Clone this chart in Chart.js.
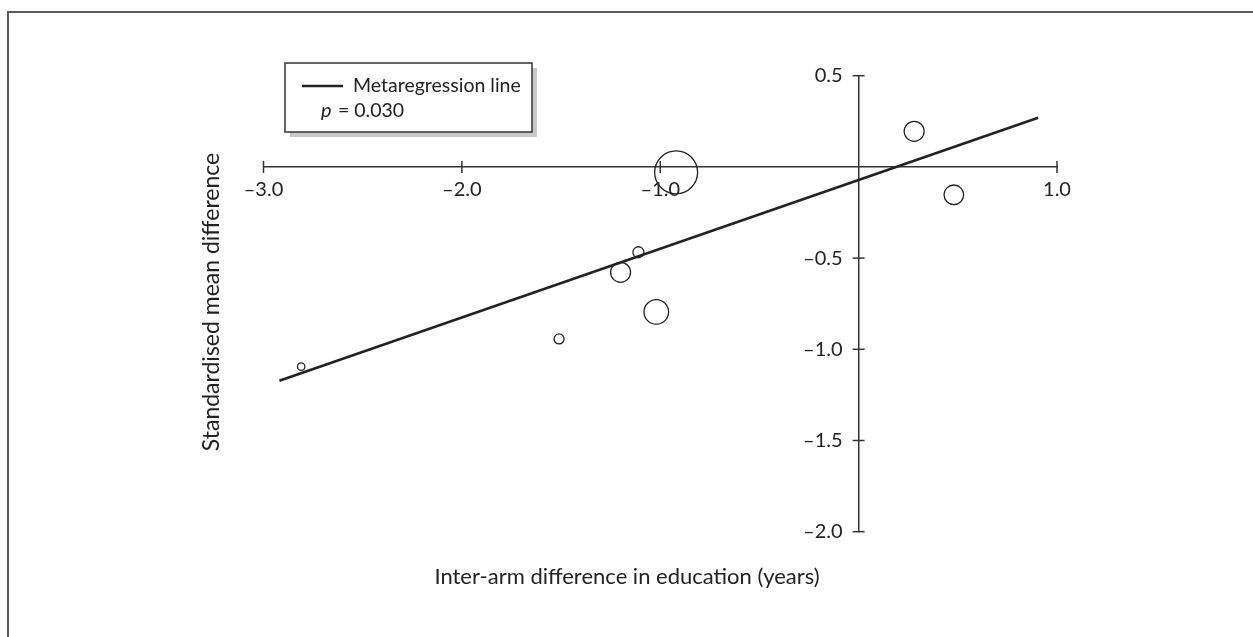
<!DOCTYPE html>
<html><head><meta charset="utf-8">
<script src="https://cdn.jsdelivr.net/npm/chart.js@4/dist/chart.umd.min.js"></script>
<style>
html,body{margin:0;padding:0;background:#fff;}
#wrap{position:relative;width:1253px;height:637px;overflow:hidden;}
#frame{position:absolute;left:7px;top:11px;right:-10px;bottom:-10px;border-top:2px solid #5a5a5a;border-left:2px solid #5a5a5a;pointer-events:none;}
canvas{position:absolute;left:0;top:0;}
</style></head><body>
<div id="wrap"><canvas id="c" width="1253" height="637"></canvas><div id="frame"></div></div>
<script>
// ---- data ----
const studyDiff   = [-0.92, 0.28, 0.48, -2.81, -1.51, -1.20, -1.11, -1.02];
const studySMD    = [-0.03, 0.195, -0.153, -1.095, -0.943, -0.578, -0.468, -0.795];
const studyWeight = [21.5, 10, 9.8, 3.7, 5, 10, 5.5, 12.3];
const lineX = [-2.92, 0.905];
const lineY = [-1.172, 0.269];
const xTicks = [-3, -2, -1, 1];
const yTicks = [0.5, -0.5, -1.0, -1.5, -2.0];
const xTitle = 'Inter-arm difference in education (years)';
const yTitle = 'Standardised mean difference';
const legendLine = 'Metaregression line';
const legendP = '0.030';

const FONT = 'Lato, "Open Sans", sans-serif';
const INK = '#222';
const fmt = v => (v < 0 ? '\u2013' : '') + Math.abs(v).toFixed(1);

// linear scale whose y labels sit left of a crossing axis with a gap
class CrossLinear extends Chart.LinearScale {
  _computeLabelItems(ca) {
    const items = super._computeLabelItems(ca);
    if (this.axis === 'y') {
      const gap = this.options.ticks.padding + 6;
      items.forEach(it => { it.options.translation[0] -= gap; });
    }
    return items;
  }
}
CrossLinear.id = 'crossLinear';
CrossLinear.defaults = Chart.LinearScale.defaults;
Chart.register(CrossLinear);

const decorPlugin = {
  id: 'decor',
  afterDraw(chart) {
    const {ctx, scales: {x, y}} = chart;
    const x0 = x.getPixelForValue(0), y0 = y.getPixelForValue(0);
    ctx.save();
    ctx.strokeStyle = '#333'; ctx.lineWidth = 1.5;
    x.ticks.forEach(t => { const p = x.getPixelForValue(t.value);
      ctx.beginPath(); ctx.moveTo(p, y0 - 6); ctx.lineTo(p, y0 + 6); ctx.stroke(); });
    y.ticks.forEach(t => { const p = y.getPixelForValue(t.value);
      ctx.beginPath(); ctx.moveTo(x0 - 6, p); ctx.lineTo(x0 + 6, p); ctx.stroke(); });

    // axis titles
    ctx.fillStyle = INK;
    ctx.textAlign = 'center'; ctx.textBaseline = 'middle';
    ctx.font = '22px ' + FONT;
    ctx.fillText(xTitle, 627, 577);
    ctx.save();
    ctx.translate(212, 302); ctx.rotate(-Math.PI / 2);
    ctx.font = '23px ' + FONT;
    ctx.fillText(yTitle, 0, 0);
    ctx.restore();

    // legend box with shadow
    const L = 285, T = 63, W = 247, H = 69;
    ctx.fillStyle = '#c8c8c8';
    ctx.fillRect(L + 5, T + 5, W, H);
    ctx.fillStyle = '#fff';
    ctx.fillRect(L, T, W, H);
    ctx.strokeStyle = '#333'; ctx.lineWidth = 1.5;
    ctx.strokeRect(L, T, W, H);
    ctx.strokeStyle = INK; ctx.lineWidth = 2.5;
    ctx.beginPath(); ctx.moveTo(302, 86); ctx.lineTo(343, 86); ctx.stroke();
    ctx.fillStyle = INK; ctx.textAlign = 'left';
    ctx.font = '19.5px ' + FONT;
    ctx.fillText(legendLine, 353, 86);
    ctx.font = 'italic 20px ' + FONT;
    ctx.fillText('p', 321, 111);
    ctx.font = '19.5px ' + FONT;
    ctx.fillText('= ' + legendP, 338, 111);
    ctx.restore();
  }
};

new Chart(document.getElementById('c'), {
  type: 'bubble',
  data: {
    datasets: [
      {
        type: 'line',
        data: lineX.map((v, i) => ({x: v, y: lineY[i]})),
        borderColor: INK, borderWidth: 2.6, pointRadius: 0, fill: false, order: 1
      },
      {
        type: 'bubble',
        data: studyDiff.map((v, i) => ({x: v, y: studySMD[i], r: studyWeight[i]})),
        backgroundColor: 'rgba(0,0,0,0)', borderColor: INK, borderWidth: 1.3, order: 2
      }
    ]
  },
  options: {
    responsive: false, animation: false, events: [],
    layout: {padding: {left: 263.5, right: 196, top: 75.7, bottom: 105.3}},
    plugins: {legend: {display: false}, tooltip: {enabled: false}},
    scales: {
      x: {
        type: 'crossLinear', position: {y: 0}, min: -3, max: 1,
        afterBuildTicks: s => { s.ticks = xTicks.map(v => ({value: v})); },
        afterFit: s => { s.height = 0; },
        grid: {display: false, drawTicks: true, tickLength: 6},
        border: {display: true, color: '#333', width: 1.5},
        ticks: {callback: v => fmt(v), font: {family: FONT, size: 20}, color: INK, padding: 5, maxRotation: 0, autoSkip: false}
      },
      y: {
        type: 'crossLinear', position: {x: 0}, min: -2, max: 0.5,
        afterBuildTicks: s => { s.ticks = yTicks.map(v => ({value: v})); },
        afterFit: s => { s.width = 0; },
        grid: {display: false, drawTicks: true, tickLength: 6},
        border: {display: true, color: '#333', width: 1.5},
        ticks: {callback: v => fmt(v), font: {family: FONT, size: 20}, color: INK, padding: 10, autoSkip: false}
      }
    }
  },
  plugins: [decorPlugin]
});
</script>
</body></html>
